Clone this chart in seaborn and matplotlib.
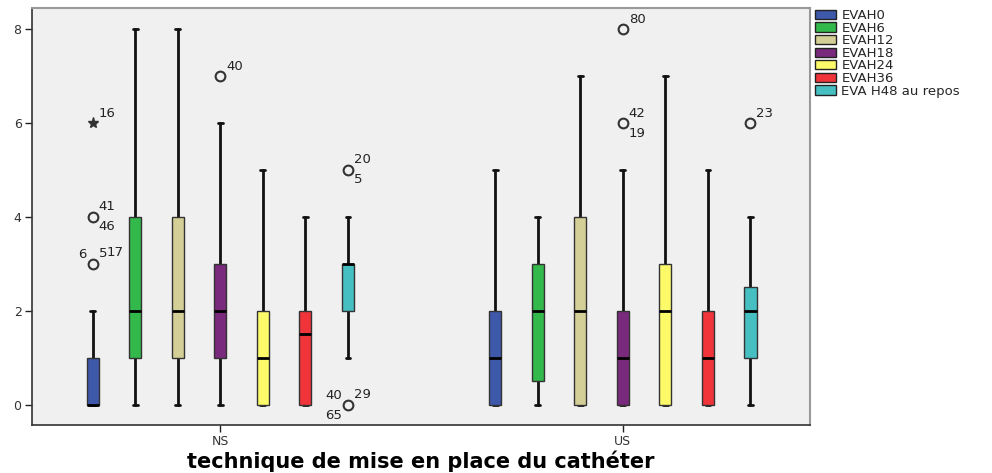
import matplotlib
matplotlib.use("Agg")
import matplotlib.pyplot as plt
import seaborn as sns
from matplotlib.patches import Patch

# ---- data ----
groups = ["NS", "US"]
variables = ["EVAH0", "EVAH6", "EVAH12", "EVAH18", "EVAH24", "EVAH36", "EVA H48 au repos"]
colors = ["#3e58aa", "#33b84b", "#d4cf96", "#7a2a7c", "#fdfa6a", "#f0343a", "#45bfc2"]

q1_ns = [0, 1, 1, 1, 0, 0, 2]
med_ns = [0, 2, 2, 2, 1, 1.5, 3]
q3_ns = [1, 4, 4, 3, 2, 2, 3]
lo_ns = [0, 0, 0, 0, 0, 0, 1]
hi_ns = [2, 8, 8, 6, 5, 4, 4]

q1_us = [0, 0.5, 0, 0, 0, 0, 1]
med_us = [1, 2, 2, 1, 2, 1, 2]
q3_us = [2, 3, 4, 2, 3, 2, 2.5]
lo_us = [0, 0, 0, 0, 0, 0, 0]
hi_us = [5, 4, 7, 5, 7, 5, 4]

# outliers: (group index, variable index, value, kind, [(label, position)])
outliers = [
    (0, 0, 6, "extreme", [("16", "ur")]),
    (0, 0, 4, "outlier", [("41", "ur"), ("46", "lr")]),
    (0, 0, 3, "outlier", [("6", "ul"), ("5", "ur"), ("17", "ur2")]),
    (0, 3, 7, "outlier", [("40", "ur")]),
    (0, 6, 5, "outlier", [("20", "ur"), ("5", "lr")]),
    (0, 6, 0, "outlier", [("40", "ul"), ("65", "ll"), ("29", "ur")]),
    (1, 3, 8, "outlier", [("80", "ur")]),
    (1, 3, 6, "outlier", [("42", "ur"), ("19", "lr")]),
    (1, 6, 6, "outlier", [("23", "ur")]),
]

# ---- style ----
sns.set_theme(style="ticks")
plt.rcParams["font.family"] = ["DejaVu Sans"]

fig = plt.figure(figsize=(9.92, 4.73), dpi=100)
ax = fig.add_axes([32 / 992, 1 - 425 / 473, (810 - 32) / 992, (425 - 8) / 473])
ax.set_facecolor("#f0f0f0")

spacing = 0.1057
width = 0.03

def pos(g, i):
    return g + (i - 3) * spacing

stats = []
positions = []
box_colors = []
for g, (q1, md, q3, lo, hi) in enumerate([(q1_ns, med_ns, q3_ns, lo_ns, hi_ns),
                                           (q1_us, med_us, q3_us, lo_us, hi_us)]):
    for i in range(len(variables)):
        stats.append(dict(q1=q1[i], med=md[i], q3=q3[i], whislo=lo[i], whishi=hi[i], fliers=[]))
        positions.append(pos(g, i))
        box_colors.append(colors[i])

bp = ax.bxp(stats, positions=positions, widths=width, patch_artist=True,
            showfliers=False, capwidths=0.012,
            boxprops=dict(edgecolor="#333333", linewidth=1.0),
            medianprops=dict(color="black", linewidth=2.0),
            whiskerprops=dict(color="#111111", linewidth=2.0),
            capprops=dict(color="#111111", linewidth=2.0))
for patch, c in zip(bp["boxes"], box_colors):
    patch.set_facecolor(c)
    patch.set_zorder(3)
for m in bp["medians"]:
    m.set_zorder(4)

offsets = {"ur": (6, 10, "left"), "lr": (6, -10, "left"), "ul": (-6, 9, "right"),
           "ll": (-6, -11, "right"), "ur2": (14, 11, "left")}
for g, i, v, kind, labs in outliers:
    x = pos(g, i)
    if kind == "extreme":
        ax.plot(x, v, marker="*", ms=8, color="#333333", linestyle="none", zorder=5)
    else:
        ax.plot(x, v, marker="o", ms=7, mfc="none", mec="#333333", mew=1.5,
                linestyle="none", zorder=5)
    for txt, p in labs:
        dx, dy, ha = offsets[p]
        ax.annotate(txt, (x, v), xytext=(dx, dy), textcoords="offset pixels",
                    ha=ha, va="center", fontsize=9.5, color="#222222")

ax.set_xlim(-0.468, 1.465)
ax.set_ylim(-0.426, 8.447)
ax.set_xticks([0, 1])
ax.set_xticklabels(groups)
ax.set_yticks([0, 2, 4, 6, 8])
ax.tick_params(axis="both", labelsize=9, colors="#222222", length=5, width=1, pad=2.5)
ax.tick_params(axis="both", labelcolor="#333333")
for s in ["left", "bottom"]:
    ax.spines[s].set_color("#333333")
    ax.spines[s].set_linewidth(1.2)
for s in ["top", "right"]:
    ax.spines[s].set_visible(True)
    ax.spines[s].set_color("#999999")
    ax.spines[s].set_linewidth(1.5)

ax.set_xlabel("technique de mise en place du cathéter", fontsize=15,
              fontweight="bold", color="black")
ax.xaxis.set_label_coords(0.5, (425 - 461) / 417)
ax.xaxis.label.set_va("center")

handles = [Patch(facecolor=c, edgecolor="#222222", linewidth=1) for c in colors]
fig.legend(handles, variables, loc="upper left", bbox_to_anchor=(815 / 992, 1 - 9 / 473),
           frameon=False, fontsize=9.5, handlelength=1.6, handleheight=0.7,
           labelspacing=-0.03, handletextpad=0.4, borderpad=0, borderaxespad=0)

fig.savefig("out.png", dpi=100)
